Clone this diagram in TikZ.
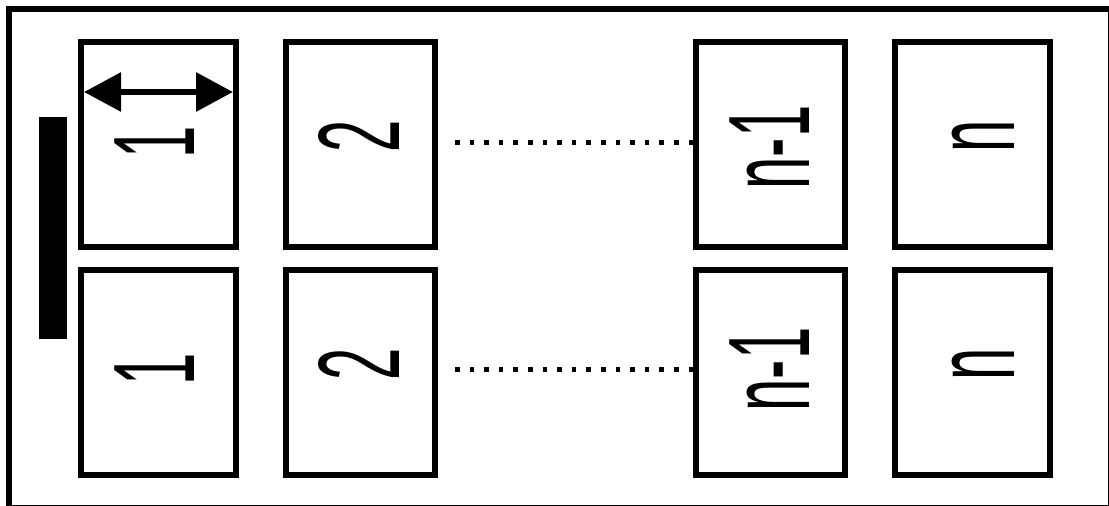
\documentclass[tikz,border=0pt]{standalone}
\usepackage{graphicx}
\usepackage{fontspec}
\setmainfont{Liberation Sans}
\usetikzlibrary{arrows.meta}
\begin{document}
\begin{tikzpicture}[x=1pt,y=-1pt,
  panel/.style={draw, line width=6pt, inner sep=0pt, outer sep=0pt, minimum height=205pt},
  wide/.style={panel, minimum width=155pt},
  narrow/.style={panel, minimum width=149pt},
  lbl/.style={rotate=90, anchor=base, inner sep=0pt, font=\fontsize{116}{116}\selectfont},
  dots/.style={line width=4.5pt, dash pattern=on 4.5pt off 10.1pt, shorten <=20pt},
  dimarrow/.style={line width=6pt, {Triangle[length=37pt,width=38pt]}-{Triangle[length=37pt,width=38pt]}}]
\useasboundingbox (0,0) rectangle (1109,506);
\draw[line width=6pt] (9,9) rectangle (1111,508);
\node[fill, minimum width=28pt, minimum height=222pt, inner sep=0pt, outer sep=0pt] (bar) at (53,228) {};
% top row
\node[wide] (a1) at (158.5,144.5) {};
\node[narrow] (a2) at (360.5,144.5) {};
\node[narrow] (a3) at (770.5,144.5) {};
\node[wide] (a4) at (972.5,144.5) {};
% bottom row
\node[wide] (b1) at (158.5,372.5) {};
\node[narrow] (b2) at (360.5,372.5) {};
\node[narrow] (b3) at (770.5,372.5) {};
\node[wide] (b4) at (972.5,372.5) {};
% labels
\node[lbl] (la1) at (194,142) {\scalebox{0.5}[1]{1}};
\node[lbl] (la2) at (399,136) {\scalebox{0.5}[1]{2}};
\node[lbl] (la3) at (809,147.5) {\scalebox{0.5}[1]{n-1}};
\node[lbl] (la4) at (1014,136.5) {\scalebox{0.5}[1]{n}};
\node[lbl] (lb1) at (194,369.5) {\scalebox{0.5}[1]{1}};
\node[lbl] (lb2) at (399,364) {\scalebox{0.5}[1]{2}};
\node[lbl] (lb3) at (809,369.5) {\scalebox{0.5}[1]{n-1}};
\node[lbl] (lb4) at (1014,364) {\scalebox{0.5}[1]{n}};
% dimension arrow
\draw[dimarrow] ([xshift=3pt,yshift=-50pt]a1.north west) -- ([xshift=-3pt,yshift=-50pt]a1.north east);
% dotted connectors
\draw[dots] ([yshift=2pt]a2.east) -- ([yshift=2pt]a3.west);
\draw[dots] ([yshift=3pt]b2.east) -- ([yshift=3pt]b3.west);
\end{tikzpicture}
\end{document}
